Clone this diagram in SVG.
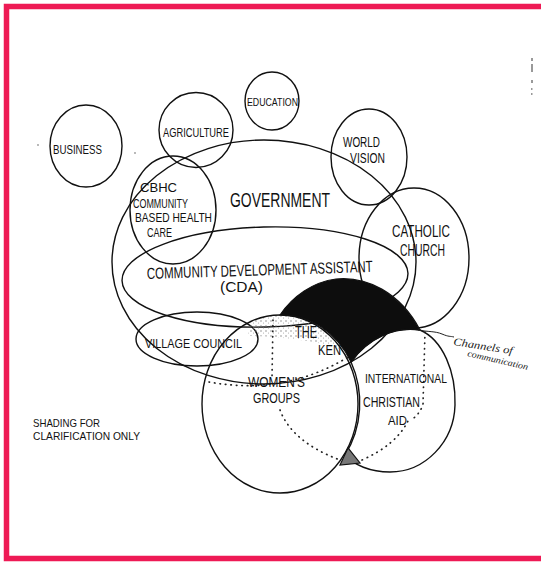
<svg xmlns="http://www.w3.org/2000/svg" width="541" height="562" viewBox="0 0 541 562">
<style>
.c{fill:none;stroke:#111;stroke-width:1.4}
.t{font-family:"Liberation Sans Narrow","Liberation Sans",Arial,sans-serif;fill:#111;text-anchor:start}
.d{fill:none;stroke:#222;stroke-width:1.7;stroke-linecap:round;stroke-dasharray:0.5 5}
.h{font-family:"Liberation Serif","DejaVu Serif",serif;font-style:italic;fill:#222}
</style>
<defs>
<pattern id="speck" width="5" height="5" patternUnits="userSpaceOnUse">
<circle cx="1" cy="1" r="0.7" fill="#777"/>
<circle cx="3.5" cy="3" r="0.5" fill="#999"/>
</pattern>
</defs>
<rect width="541" height="562" fill="#fff"/>
<path d="M541,6.5 H6.5 V558.5 H541" fill="none" stroke="#ee1a55" stroke-width="5.5"/>
<g id="artifacts" fill="#999">
<rect x="531" y="58" width="2" height="3"/>
<rect x="531" y="64" width="2" height="8"/>
<rect x="531" y="80" width="2" height="3"/>
<rect x="531" y="88" width="1.5" height="2"/>
<rect x="531" y="93" width="1.5" height="2"/>
<circle cx="38" cy="145" r="0.9"/>
<circle cx="135" cy="153" r="0.9"/>
</g>
<g id="business"><ellipse class="c" cx="86" cy="146" rx="36" ry="41"/><text class="t" x="53" y="154" font-size="13" textLength="49" lengthAdjust="spacingAndGlyphs">BUSINESS</text></g>
<g id="agriculture"><ellipse class="c" cx="196" cy="130" rx="37" ry="37.5"/><text class="t" x="163" y="137" font-size="13" textLength="66" lengthAdjust="spacingAndGlyphs">AGRICULTURE</text></g>
<g id="education"><ellipse class="c" cx="272" cy="101" rx="27" ry="29"/><text class="t" x="247" y="106" font-size="11.5" textLength="51" lengthAdjust="spacingAndGlyphs">EDUCATION</text></g>
<g id="world-vision"><ellipse class="c" cx="369" cy="157" rx="38" ry="48"/><text class="t" x="343" y="147" font-size="14" textLength="37" lengthAdjust="spacingAndGlyphs">WORLD</text><text class="t" x="350" y="163" font-size="14" textLength="35" lengthAdjust="spacingAndGlyphs">VISION</text></g>
<g id="cbhc"><ellipse class="c" cx="173" cy="210" rx="43" ry="54"/><text class="t" x="140" y="192" font-size="13" textLength="37" lengthAdjust="spacingAndGlyphs">CBHC</text><text class="t" x="133" y="208" font-size="12" textLength="55" lengthAdjust="spacingAndGlyphs">COMMUNITY</text><text class="t" x="135" y="222" font-size="13" textLength="77" lengthAdjust="spacingAndGlyphs">BASED HEALTH</text><text class="t" x="147" y="237" font-size="13" textLength="25" lengthAdjust="spacingAndGlyphs">CARE</text></g>
<g id="government"><ellipse class="c" cx="264" cy="262" rx="152" ry="122"/><text class="t" x="230" y="207" font-size="20" textLength="100" lengthAdjust="spacingAndGlyphs">GOVERNMENT</text></g>
<g id="cda"><ellipse class="c" cx="265" cy="277" rx="143" ry="50" transform="rotate(-1.5 265 277)"/><text class="t" x="147" y="279" font-size="16" textLength="226" lengthAdjust="spacingAndGlyphs" transform="rotate(-1.8 147 279)">COMMUNITY DEVELOPMENT ASSISTANT</text><text class="t" x="220" y="292" font-size="15" textLength="43" lengthAdjust="spacingAndGlyphs">(CDA)</text></g>
<g id="catholic-church"><ellipse class="c" cx="414" cy="258" rx="55" ry="70"/><text class="t" x="392" y="237" font-size="16" textLength="58" lengthAdjust="spacingAndGlyphs">CATHOLIC</text><text class="t" x="400" y="256" font-size="16" textLength="45" lengthAdjust="spacingAndGlyphs">CHURCH</text></g>
<g id="village-council"><ellipse class="c" cx="197" cy="339" rx="61" ry="27"/><text class="t" x="145" y="348" font-size="13.5" textLength="97" lengthAdjust="spacingAndGlyphs">VILLAGE COUNCIL</text></g>
<g id="womens-groups"><path d="M250,322 A78,89 0 0 1 342,350 Q320,342 300,340 Q270,336 248,336 Z" fill="url(#speck)"/><ellipse class="c" cx="280" cy="404" rx="78" ry="89"/><text class="t" x="248" y="387" font-size="15" textLength="57" lengthAdjust="spacingAndGlyphs">WOMEN'S</text><text class="t" x="253" y="403" font-size="14" textLength="47" lengthAdjust="spacingAndGlyphs">GROUPS</text></g>
<g id="international-christian-aid"><path class="c" d="M351,362 C368,338 395,326 420,330 C443,340 456,372 455,405 C454,442 425,472 390,472 C370,472 354,465 345,455 A78,89 0 0 0 351,362 Z"/><text class="t" x="365" y="383" font-size="13" textLength="82" lengthAdjust="spacingAndGlyphs">INTERNATIONAL</text><text class="t" x="363" y="407" font-size="14" textLength="57" lengthAdjust="spacingAndGlyphs">CHRISTIAN</text><text class="t" x="388" y="425" font-size="13" textLength="19" lengthAdjust="spacingAndGlyphs">AID</text></g>
<g id="the-kenya"><path d="M280,315 C293,296 313,282 336,279 C366,276 400,292 420,330 C395,326 368,338 351,362 A78,89 0 0 0 280,315 Z" fill="#0d0d0d" stroke="#111" stroke-width="1.2"/><text class="t" x="295" y="338" font-size="16" textLength="22" lengthAdjust="spacingAndGlyphs">THE</text><text class="t" x="318" y="355" font-size="14" textLength="23" lengthAdjust="spacingAndGlyphs">KEN</text></g>
<g id="connectors">
<path class="d" d="M273,320 L272,378"/>
<path class="d" d="M209,382 Q285,396 350,356"/>
<path class="d" d="M280,410 Q292,442 340,460"/>
<path class="d" d="M362,460 Q396,445 408,421"/>
<path class="d" d="M425,332 L423,405 Q419,415 411,420"/>
<path d="M348,448 L340,465 L360,463 Z" fill="#777" stroke="#111" stroke-width="1.2"/>
<path d="M418,330 C428,332 435,331 442,334 S450,336 454,337" fill="none" stroke="#222" stroke-width="1"/>
</g>
<g id="channels-label">
<text class="h" x="453" y="345" font-size="11" textLength="60" lengthAdjust="spacingAndGlyphs" transform="rotate(9 453 345)">Channels of</text>
<text class="h" x="467" y="356" font-size="9" textLength="62" lengthAdjust="spacingAndGlyphs" transform="rotate(13 467 356)">communication</text>
</g>
<g id="shading-note">
<text class="t" x="33" y="427" font-size="11" textLength="67" lengthAdjust="spacingAndGlyphs">SHADING FOR</text>
<text class="t" x="33" y="440" font-size="11" textLength="107" lengthAdjust="spacingAndGlyphs">CLARIFICATION ONLY</text>
</g>
</svg>
